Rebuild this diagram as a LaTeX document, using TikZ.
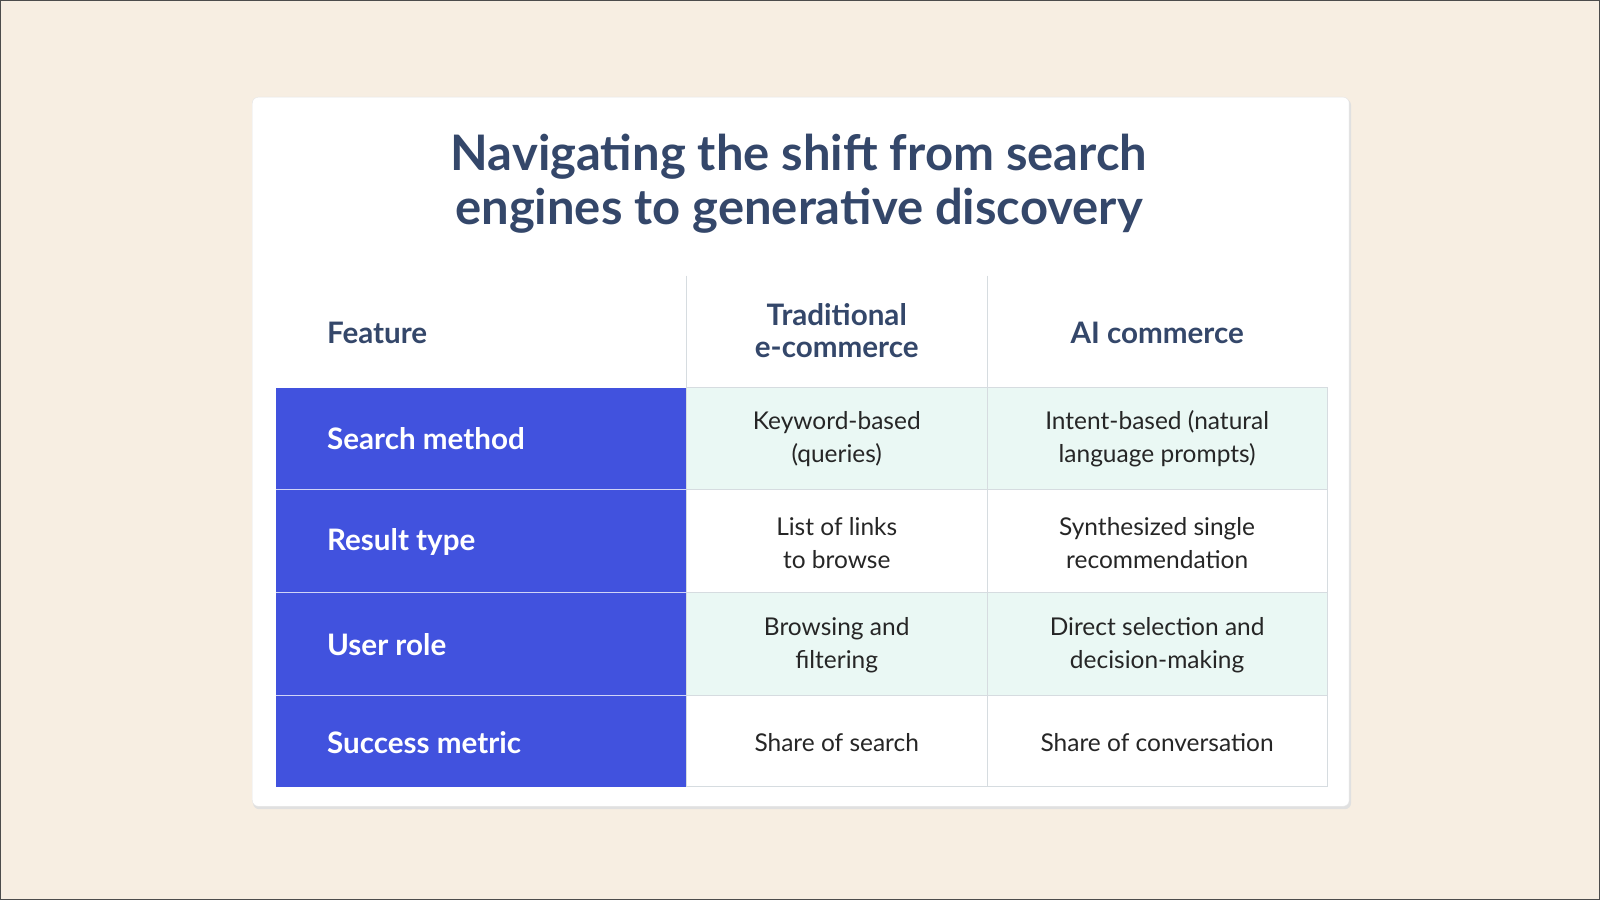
\documentclass[tikz,border=0pt]{standalone}
\usepackage{fontspec}
\setmainfont{Lato}
\definecolor{bg}{HTML}{F7EEE2}
\definecolor{blu}{HTML}{4152DE}
\definecolor{mint}{HTML}{EAF8F4}
\definecolor{navy}{HTML}{34476A}
\definecolor{grid}{HTML}{D6DCE0}
\begin{document}
\begin{tikzpicture}[x=1pt,y=-1pt,
  hdr/.style={font=\fontsize{29}{32}\selectfont\bfseries,text=navy,align=center},
  feat/.style={font=\fontsize{29}{32}\selectfont\bfseries,text=white,anchor=west},
  cell/.style={font=\fontsize{24}{32}\selectfont,text=black!85,align=center}]
\useasboundingbox (0,0) rectangle (1568,882);
\fill[bg] (0,0) rectangle (1568,882);
\draw[black!70,line width=1pt] (0.5,0.5) rectangle (1567.5,881.5);
\fill[black!12,rounded corners=6] (248,97) rectangle (1324,793);
\node[draw=black!10,fill=white,rounded corners=6,minimum width=1075,minimum height=695,anchor=north west,inner sep=0] (card) at (247,95) {};
\node[font=\fontsize{48}{53}\selectfont\bfseries,text=navy,align=center] (title) at (783,180) {Navigating the shift from search\\engines to generative discovery};
% row fills
\fill[mint] (673,380) rectangle (1301,480);
\fill[mint] (673,581) rectangle (1301,682);
\fill[blu] (270,380) rectangle (673,771);
% grid
\draw[grid,line width=1pt] (673,270) -- (673,771) (968,270) -- (968,771);
\draw[grid,line width=1pt] (673,380) -- (1301,380) (673,480) -- (1301,480) (673,581) -- (1301,581) (673,682) -- (1301,682) (1301,380) -- (1301,771) (673,771) -- (1301,771);
\draw[white!75!blu,line width=1pt] (270,480) -- (673,480) (270,581) -- (673,581) (270,682) -- (673,682);
% header
\node[hdr,anchor=west] (h1) at (317,326) {Feature};
\node[hdr] (h2) at (820,324) {Traditional\\e-commerce};
\node[hdr] (h3) at (1134,326) {AI commerce};
% rows
\node[feat] (f1) at (317,430) {Search method};
\node[feat] (f2) at (317,531) {Result type};
\node[feat] (f3) at (317,632) {User role};
\node[feat] (f4) at (317,728) {Success metric};
\node[cell] (a1) at (820,430) {Keyword-based\\(queries)};
\node[cell] (b1) at (1134,430) {Intent-based (natural\\language prompts)};
\node[cell] (a2) at (820,532) {List of links\\to browse};
\node[cell] (b2) at (1134,532) {Synthesized single\\recommendation};
\node[cell] (a3) at (820,632) {Browsing and\\filtering};
\node[cell] (b3) at (1134,632) {Direct selection and\\decision-making};
\node[cell] (a4) at (820,728) {Share of search};
\node[cell] (b4) at (1134,728) {Share of conversation};
\end{tikzpicture}
\end{document}
